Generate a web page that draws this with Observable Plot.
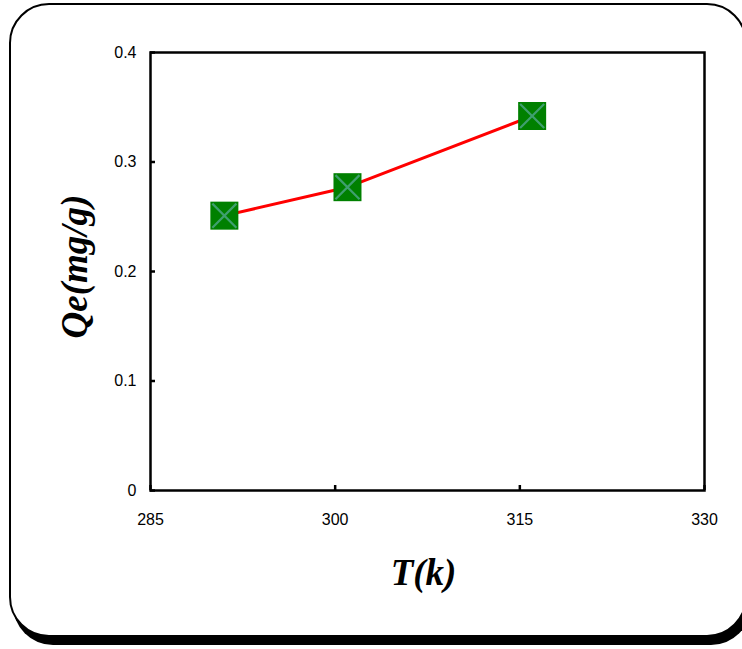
<!DOCTYPE html>
<html>
<head>
<meta charset="utf-8">
<script src="https://cdn.jsdelivr.net/npm/d3@7"></script>
<script src="https://cdn.jsdelivr.net/npm/@observablehq/plot@0.6"></script>
<style>
  html, body { margin: 0; padding: 0; background: #fff; }
  #wrap { position: relative; width: 742px; height: 649px; overflow: hidden; }
  #frame { position: absolute; left: 9px; top: 3px; width: 734px; height: 630px;
           border: 2.5px solid #000; border-radius: 40px; box-shadow: 4px 8px 0 #000; background: #fff; }
  #chart { position: absolute; left: 0; top: 0; }
</style>
</head>
<body>
<div id="wrap"><div id="frame"></div><div id="chart"></div></div>
<script>
const temperature = [291, 301, 316];
const qe = [0.251, 0.277, 0.342];
const xTicks = [285, 300, 315, 330];
const yTicks = [0, 0.1, 0.2, 0.3, 0.4];
const xLabel = "T(k)";
const yLabel = "Qe(mg/g)";

const data = temperature.map((t, i) => ({t, q: qe[i]}));
const serif = "'Liberation Serif', 'Times New Roman', serif";

const chart = Plot.plot({
  width: 742,
  height: 649,
  marginLeft: 150,
  marginRight: 38,
  marginTop: 52,
  marginBottom: 159,
  style: {background: "transparent", fontFamily: "'Liberation Sans', Arial, sans-serif", fontSize: "16px", color: "#000"},
  x: {domain: [285, 330]},
  y: {domain: [0, 0.4]},
  marks: [
    Plot.frame({stroke: "#000", strokeWidth: 2.5}),
    Plot.axisX(xTicks, {tickSize: -5, tickPadding: 28, strokeWidth: 2.5, label: null, fontSize: 16}),
    Plot.axisY(yTicks, {tickSize: -5, tickPadding: 19, strokeWidth: 2.5, label: null, fontSize: 16, tickFormat: d => String(d)}),
    Plot.line(data, {x: "t", y: "q", stroke: "#ff0000", strokeWidth: 3}),
    Plot.dot(data, {x: "t", y: "q", symbol: "square", r: 15.8, fill: "#008000", stroke: "none"}),
    Plot.dot(data, {x: "t", y: "q", symbol: "times", r: 11, stroke: "#3f9f6f", strokeWidth: 2.2}),
    Plot.text([yLabel], {frameAnchor: "left", dx: -75, dy: -5, rotate: -90, textAnchor: "middle", lineAnchor: "middle", fontSize: 37, fontWeight: "bold", fontStyle: "italic", fontFamily: serif, fill: "#000"}),
    Plot.text([xLabel], {frameAnchor: "bottom", dx: -4, dy: 83, textAnchor: "middle", lineAnchor: "middle", fontSize: 37, fontWeight: "bold", fontStyle: "italic", fontFamily: serif, fill: "#000"})
  ]
});
document.getElementById("chart").appendChild(chart);
</script>
</body>
</html>
